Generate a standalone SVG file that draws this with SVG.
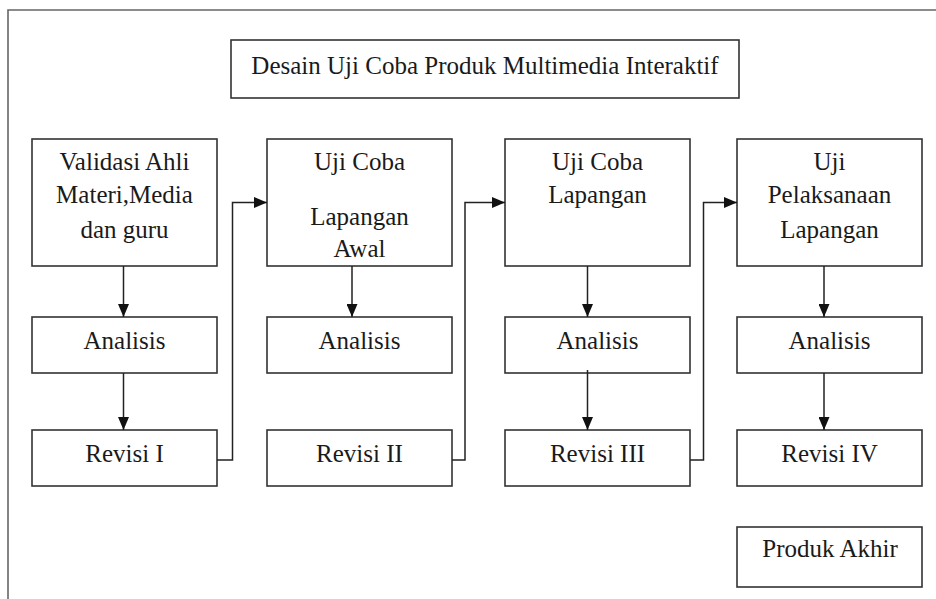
<svg xmlns="http://www.w3.org/2000/svg" width="936" height="599" viewBox="0 0 936 599" font-family="'Liberation Serif', 'DejaVu Serif', serif">
<style>
.box{fill:#fff;stroke:#333;stroke-width:1.6}
.frame{fill:none;stroke:#666;stroke-width:1.6}
.c{fill:none;stroke:#222;stroke-width:1.5}
text{font-size:25px;fill:#1a1a1a;text-anchor:middle}
</style>
<defs>
<marker id="ah" markerUnits="userSpaceOnUse" markerWidth="13" markerHeight="11" refX="13" refY="5.5" orient="auto">
<path d="M0,0 L13,5.5 L0,11 z" fill="#111"/>
</marker>
</defs>
<path class="frame" d="M8,599 V10 H936"/>
<g id="title"><rect class="box" x="231" y="40" width="508" height="58"/><text x="485" y="74">Desain Uji Coba Produk Multimedia Interaktif</text></g>
<g id="validasi"><rect class="box" x="32" y="139" width="185" height="127"/><text x="124.5" y="170">Validasi Ahli</text><text x="124.5" y="203">Materi,Media</text><text x="124.5" y="238">dan guru</text></g>
<g id="ujicoba-awal"><rect class="box" x="267" y="139" width="185" height="127"/><text x="359.5" y="170">Uji Coba</text><text x="359.5" y="225">Lapangan</text><text x="359.5" y="257">Awal</text></g>
<g id="ujicoba-lapangan"><rect class="box" x="505" y="139" width="185" height="127"/><text x="597.5" y="170">Uji Coba</text><text x="597.5" y="203">Lapangan</text></g>
<g id="uji-pelaksanaan"><rect class="box" x="737" y="139" width="185" height="127"/><text x="829.5" y="170">Uji</text><text x="829.5" y="203">Pelaksanaan</text><text x="829.5" y="238">Lapangan</text></g>
<g id="analisis1"><rect class="box" x="32" y="317" width="185" height="56"/><text x="124.5" y="349">Analisis</text></g>
<g id="analisis2"><rect class="box" x="267" y="317" width="185" height="56"/><text x="359.5" y="349">Analisis</text></g>
<g id="analisis3"><rect class="box" x="505" y="317" width="185" height="56"/><text x="597.5" y="349">Analisis</text></g>
<g id="analisis4"><rect class="box" x="737" y="317" width="185" height="56"/><text x="829.5" y="349">Analisis</text></g>
<g id="revisi1"><rect class="box" x="32" y="430" width="185" height="56"/><text x="124.5" y="462">Revisi I</text></g>
<g id="revisi2"><rect class="box" x="267" y="430" width="185" height="56"/><text x="359.5" y="462">Revisi II</text></g>
<g id="revisi3"><rect class="box" x="505" y="430" width="185" height="56"/><text x="597.5" y="462">Revisi III</text></g>
<g id="revisi4"><rect class="box" x="737" y="430" width="185" height="56"/><text x="829.5" y="462">Revisi IV</text></g>
<g id="produk-akhir"><rect class="box" x="737" y="527" width="185" height="60"/><text x="830" y="557">Produk Akhir</text></g>
<g id="connectors">
<path class="c" d="M123.5,266 V317" marker-end="url(#ah)"/>
<path class="c" d="M123.5,373 V430" marker-end="url(#ah)"/>
<path class="c" d="M352,266 V317" marker-end="url(#ah)"/>
<path class="c" d="M587.5,266 V317" marker-end="url(#ah)"/>
<path class="c" d="M587.5,370 V430" marker-end="url(#ah)"/>
<path class="c" d="M824,266 V317" marker-end="url(#ah)"/>
<path class="c" d="M824,373 V430" marker-end="url(#ah)"/>
<path class="c" d="M217,460 H232.5 V202.5 H267" marker-end="url(#ah)"/>
<path class="c" d="M452,460 H465 V202.5 H505" marker-end="url(#ah)"/>
<path class="c" d="M690,460 H703.5 V202.5 H737" marker-end="url(#ah)"/>
</g>
</svg>
